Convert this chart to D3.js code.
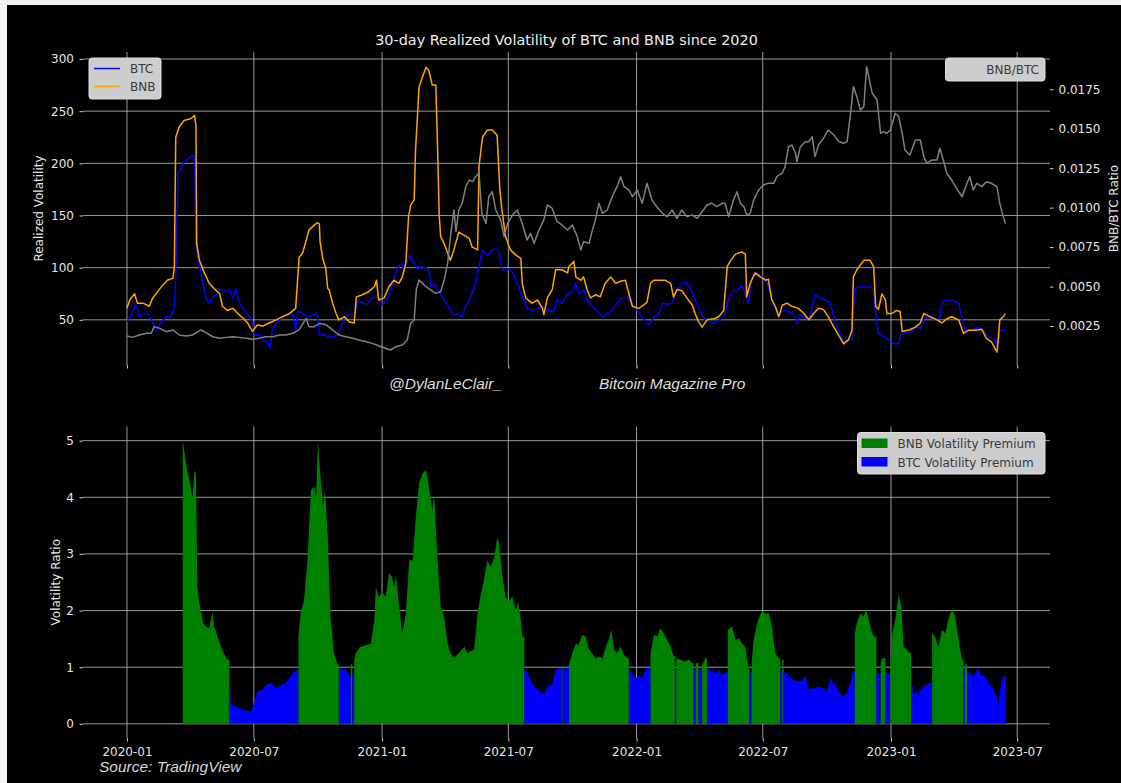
<!DOCTYPE html>
<html><head><meta charset="utf-8">
<script src="https://cdn.jsdelivr.net/npm/d3@7"></script>
<style>body{margin:0;background:#fff;} svg{display:block}</style>
</head><body>
<svg id="c" width="1121" height="783"></svg>
<script>
// ---------------- DATA (days since startDate) ----------------
const startDate = "2020-01-01";
const xTickLabels = ["2020-01","2020-07","2021-01","2021-07","2022-01","2022-07","2023-01","2023-07"];
const volTicks = [50,100,150,200,250,300];
const ratioTicks = [0.0025,0.0050,0.0075,0.0100,0.0125,0.0150,0.0175];
const premTicks = [0,1,2,3,4,5];

const bnbDays = [0,4,11,15,23,32,37,44,51,58,66,68,70,75,82,92,97,99,100,104,111,118,125,133,137,144,152,159,166,173,180,187,195,204,214,223,233,242,247,252,257,261,269,273,276,277,281,285,288,290,295,300,304,312,319,326,329,338,347,355,358,361,369,376,383,390,395,400,404,407,412,414,419,424,429,433,438,443,445,448,450,455,460,464,469,476,484,491,495,503,505,510,517,524,531,535,538,543,550,558,565,567,572,581,589,596,598,603,610,615,624,632,634,641,644,651,655,660,665,672,679,686,694,701,708,715,720,725,734,741,746,751,756,765,772,780,784,789,796,803,811,815,820,825,832,842,849,856,861,866,873,882,887,889,894,901,909,916,920,925,930,935,940,947,954,963,971,978,985,992,999,1006,1014,1021,1028,1035,1040,1042,1047,1057,1066,1071,1074,1078,1083,1088,1090,1097,1104,1109,1112,1121,1131,1138,1143,1152,1162,1169,1176,1183,1193,1200,1207,1217,1226,1233,1240,1248,1250,1252,1257,1260];
const bnbVol = [61,69,75,66,66,63,71,77,83,88,90,101,225,235,241,243,246,236,123,107,95,85,80,75,63,59,61,56,52,47,39,45,44,47,50,53,56,61,110,114,126,136,141,143,142,125,108,100,80,79,66,56,50,53,48,47,72,74,77,82,88,69,71,82,88,85,91,104,149,160,165,213,273,283,292,289,275,275,229,149,130,123,114,107,117,134,131,128,120,117,197,225,232,232,227,174,155,130,117,112,109,85,71,66,69,61,55,71,79,98,98,95,101,106,91,88,91,79,71,74,72,85,91,85,87,88,75,63,61,64,67,85,88,88,88,85,72,79,78,71,64,56,48,43,50,51,53,59,101,107,113,115,113,72,85,95,91,88,89,69,63,53,64,66,63,61,56,50,56,61,60,53,43,35,27,31,40,91,98,107,107,101,63,60,75,69,56,56,59,58,39,40,43,47,56,53,50,47,51,53,50,37,40,40,41,32,29,19,32,50,53,56];

const btcDays = [0,4,8,13,18,25,30,35,42,49,56,63,68,70,73,78,85,92,97,99,104,109,113,118,123,128,133,140,147,152,156,161,168,176,180,183,190,195,202,205,209,216,223,230,238,242,245,252,259,266,273,276,283,290,295,302,307,312,319,326,331,338,345,352,359,367,374,381,387,393,398,405,412,417,421,429,433,436,441,445,452,460,467,474,480,486,493,500,505,510,517,524,529,534,538,546,553,560,567,574,581,589,596,605,612,617,624,632,639,643,648,655,660,667,675,682,689,696,703,710,718,725,732,739,749,756,763,768,775,782,789,794,801,808,815,823,830,837,844,851,858,863,870,878,882,887,891,897,904,911,918,923,928,935,942,949,956,961,966,973,978,983,987,995,1002,1009,1014,1018,1026,1033,1040,1044,1050,1059,1066,1071,1074,1078,1085,1092,1100,1107,1112,1119,1126,1133,1138,1145,1155,1162,1166,1169,1174,1183,1193,1198,1202,1212,1221,1229,1236,1243,1248,1250,1260];
const btcVol = [48,53,58,64,53,56,56,51,40,47,53,53,63,91,189,197,203,207,207,123,101,85,72,66,71,74,79,78,79,71,80,66,59,53,47,35,36,31,28,23,42,48,53,55,56,40,58,56,53,55,56,35,36,33,34,35,43,53,55,53,69,66,65,71,72,64,71,85,98,104,98,112,104,98,101,100,98,82,85,80,72,64,56,55,53,63,72,85,101,117,112,117,118,114,98,99,96,85,72,61,59,61,63,59,58,69,66,75,77,85,75,79,69,63,58,53,56,59,66,71,72,64,59,53,45,53,56,66,65,66,79,83,87,80,69,56,50,48,47,50,56,71,77,80,83,75,66,91,95,91,87,75,63,56,59,58,56,47,55,52,50,63,74,71,69,66,53,43,31,29,32,79,82,81,82,79,56,37,34,31,27,27,40,37,40,43,42,53,51,50,53,66,69,69,66,50,40,40,43,39,34,31,27,40,40];

const ratioDays = [0,8,18,28,35,39,47,56,66,75,85,94,106,113,123,133,142,152,161,171,180,190,199,209,219,228,238,247,257,261,269,276,285,295,304,314,324,333,343,352,362,371,378,386,395,402,407,412,415,419,424,429,436,443,450,455,460,464,469,472,476,481,486,491,496,500,505,509,515,519,524,529,536,541,546,553,560,567,574,579,584,591,598,603,610,617,624,632,639,646,651,655,663,667,672,677,682,689,696,703,708,713,720,725,732,739,746,753,760,768,775,782,789,796,803,811,818,825,832,839,846,854,858,863,870,875,880,885,889,894,899,906,913,920,928,932,940,944,949,954,959,961,966,973,978,983,987,992,999,1006,1014,1021,1028,1033,1038,1042,1047,1052,1057,1061,1065,1069,1076,1081,1085,1090,1095,1102,1107,1112,1116,1123,1131,1138,1143,1147,1155,1162,1166,1171,1176,1183,1190,1198,1205,1209,1214,1219,1226,1233,1240,1248,1252,1257,1260];
const ratioVals = [0.00187,0.00178,0.00193,0.00204,0.00204,0.00246,0.00235,0.00214,0.00225,0.00193,0.00187,0.00193,0.00225,0.0021,0.00182,0.00172,0.00178,0.00182,0.00178,0.00172,0.00166,0.00172,0.00182,0.00182,0.00193,0.00193,0.00204,0.00225,0.00299,0.00246,0.00246,0.00267,0.0026,0.00225,0.00193,0.00182,0.00172,0.00161,0.0015,0.0014,0.00123,0.00109,0.00098,0.00119,0.0013,0.00161,0.00267,0.00288,0.00478,0.00542,0.0052,0.00499,0.00478,0.00457,0.00467,0.00542,0.00647,0.00816,0.00985,0.0085,0.00985,0.01028,0.01133,0.01175,0.01165,0.01196,0.01218,0.00964,0.009,0.01069,0.01101,0.00985,0.00922,0.00816,0.009,0.00953,0.00985,0.009,0.00795,0.00837,0.00774,0.00858,0.00922,0.01017,0.00995,0.00911,0.0089,0.00858,0.0089,0.00816,0.00732,0.00784,0.00774,0.00848,0.00922,0.01028,0.00964,0.00985,0.01069,0.01133,0.01196,0.01133,0.01112,0.01069,0.01112,0.01028,0.01154,0.01048,0.01006,0.00964,0.00943,0.00985,0.00932,0.00985,0.00943,0.00953,0.00932,0.00974,0.01017,0.01028,0.01006,0.01028,0.01028,0.00943,0.01048,0.01101,0.01028,0.01006,0.00953,0.00964,0.01048,0.01112,0.01144,0.01154,0.01154,0.01196,0.01218,0.01259,0.01386,0.01397,0.01344,0.01291,0.01386,0.01418,0.01418,0.0145,0.01323,0.01397,0.01439,0.01492,0.0146,0.01418,0.01408,0.01418,0.01598,0.01767,0.01703,0.01619,0.0164,0.01893,0.01809,0.01725,0.01682,0.01471,0.01482,0.01471,0.01492,0.01598,0.01577,0.01471,0.01365,0.01334,0.01429,0.01429,0.01323,0.01281,0.01302,0.01302,0.01376,0.01302,0.01218,0.01175,0.01122,0.01069,0.01154,0.01196,0.01112,0.01154,0.01133,0.01164,0.01154,0.01133,0.01028,0.00943,0.009];

const premDays = [80,82,86,90,92,94,97,99,101,104,109,113,118,123,125,130,135,140,144,147,149,156,164,171,178,183,187,195,199,207,214,221,228,235,242,246,249,254,259,264,269,271,274,277,281,284,288,292,297,302,304,309,314,319,321,323,326,328,335,343,350,355,357,361,367,371,376,380,383,386,390,395,400,405,410,414,419,424,429,433,438,441,445,450,455,460,464,469,476,484,488,493,498,503,507,512,517,522,527,531,534,538,543,548,553,558,561,565,567,570,574,579,584,591,598,603,610,615,620,624,625,629,634,639,644,648,653,658,663,667,672,677,682,687,691,695,699,703,708,713,718,720,725,730,734,739,744,749,751,756,761,765,770,775,780,784,786,788,794,801,806,811,813,816,820,825,830,832,837,844,849,854,859,862,868,873,878,882,887,891,893,896,899,904,909,911,916,921,925,930,935,937,940,942,947,954,961,968,973,978,985,992,999,1004,1009,1014,1018,1023,1028,1033,1038,1041,1044,1047,1052,1057,1060,1064,1069,1072,1075,1078,1081,1083,1085,1088,1092,1095,1098,1102,1107,1111,1114,1119,1123,1125,1128,1133,1138,1143,1147,1152,1155,1159,1164,1169,1174,1178,1184,1188,1193,1198,1200,1202,1205,1210,1214,1221,1226,1231,1236,1243,1248,1250,1254,1257,1261];
const premVals = [5.0,4.84,4.48,4.3,4.13,4.0,4.48,4.42,2.42,2.13,1.78,1.72,1.69,1.98,1.72,1.54,1.36,1.22,1.13,0.98,0.34,0.31,0.26,0.23,0.22,0.39,0.57,0.6,0.69,0.72,0.63,0.69,0.72,0.84,0.95,1.54,1.95,2.19,2.89,4.13,4.19,3.89,4.98,4.48,3.84,4.13,3.31,1.89,1.25,1.05,0.92,0.98,0.95,0.84,1.05,0.9,1.13,1.25,1.36,1.39,1.42,1.84,2.42,2.25,2.31,2.25,2.66,2.6,2.42,2.6,2.13,1.6,1.95,2.89,2.89,3.6,4.25,4.42,4.48,4.19,3.78,4.04,3.01,2.07,1.89,1.42,1.25,1.16,1.25,1.36,1.25,1.28,1.31,1.95,2.25,2.54,2.89,2.78,2.95,3.28,3.19,2.66,2.25,2.16,2.25,1.98,2.16,1.84,1.54,0.98,0.92,0.78,0.66,0.6,0.51,0.66,0.69,0.95,0.98,1.02,0.97,0.98,1.05,1.25,1.42,1.39,1.57,1.54,1.31,1.25,1.16,1.19,1.16,1.36,1.48,1.66,1.31,1.25,1.36,1.22,1.16,0.98,0.89,0.81,0.84,0.81,0.98,0.98,1.25,1.57,1.54,1.69,1.6,1.48,1.36,1.2,0.95,1.16,1.13,1.1,1.13,1.07,0.95,1.07,0.95,1.04,1.16,0.97,0.95,0.89,0.95,0.86,0.92,1.66,1.72,1.48,1.51,1.42,1.36,1.01,0.9,1.07,1.48,1.78,1.95,1.98,1.95,1.95,1.72,1.25,1.16,0.95,1.13,0.92,0.89,0.78,0.75,0.75,0.86,0.6,0.63,0.66,0.63,0.57,0.81,0.72,0.66,0.54,0.48,0.57,0.72,0.92,1.6,1.78,1.95,1.89,2.04,1.84,1.6,1.54,0.89,0.89,1.07,1.16,1.16,0.89,0.89,1.04,1.6,1.84,2.28,2.07,1.36,1.31,1.25,0.84,0.55,0.54,0.6,0.66,0.69,0.72,1.6,1.54,1.36,1.66,1.6,1.84,2.04,1.89,1.48,1.13,0.98,1.05,0.92,0.89,0.84,0.98,0.84,0.86,0.72,0.6,0.48,0.34,0.72,0.84,0.84];

// ---------------- DRAW ----------------
const svg = d3.select("#c");
const W = 1121, H = 783;
const L = 83, R = 1050;
const T1 = 52, B1 = 365;
const T2 = 426.5, B2 = 738;
const FONT = "DejaVu Sans, sans-serif";
const GRID = "#b4b4b4";
const TXT = "#e6e6e6";

const t0 = d3.utcParse("%Y-%m-%d")(startDate);
const toDate = d => new Date(t0.getTime() + d * 864e5);

svg.append("rect").attr("width", W).attr("height", H).attr("fill", "#f4f4f4");
svg.append("rect").attr("x", 7).attr("y", 5).attr("width", W - 7).attr("height", H - 5).attr("fill", "#000");

const allDays = bnbDays.concat(btcDays, ratioDays, premDays);
const [dmin, dmax] = d3.extent(allDays);
const pad = (dmax - dmin) * 0.05;
const x = d3.scaleUtc().domain([toDate(dmin - pad), toDate(dmax + pad)]).range([L, R]);
const yVol = d3.scaleLinear().domain([6.7, 306.7]).range([B1, T1]);
const yRat = d3.scaleLinear().domain([0.00003, 0.01986]).range([B1, T1]);
const yPrem = d3.scaleLinear().domain([-0.25, 5.25]).range([B2, T2]);
const xTicks = xTickLabels.map(s => d3.utcParse("%Y-%m")(s));

// grids
function grid(yScale, ticks, top, bottom) {
  const g = svg.append("g");
  g.selectAll(".gv").data(xTicks).join("line")
    .attr("x1", d => x(d)).attr("x2", d => x(d)).attr("y1", top).attr("y2", bottom)
    .attr("stroke", GRID).attr("stroke-width", 1).attr("opacity", 0.85);
  g.selectAll(".gh").data(ticks).join("line")
    .attr("x1", L).attr("x2", R).attr("y1", d => yScale(d)).attr("y2", d => yScale(d))
    .attr("stroke", GRID).attr("stroke-width", 1).attr("opacity", 0.85);
}
grid(yVol, volTicks, T1, B1);
grid(yPrem, premTicks, T2, B2);

// lines
const line = (ys) => d3.line().x(p => x(toDate(p.d))).y(p => ys(p.v));
const btc = btcDays.map((d, i) => ({d, v: btcVol[i]}));
const bnb = bnbDays.map((d, i) => ({d, v: bnbVol[i]}));
const rat = ratioDays.map((d, i) => ({d, v: ratioVals[i]}));
svg.append("path").datum(btc).attr("d", line(yVol)).attr("fill", "none").attr("stroke", "#0000ff").attr("stroke-width", 1.5).attr("stroke-linejoin", "round");
svg.append("path").datum(bnb).attr("d", line(yVol)).attr("fill", "none").attr("stroke", "#ffa500").attr("stroke-width", 1.5).attr("stroke-linejoin", "round");
svg.append("path").datum(rat).attr("d", line(yRat)).attr("fill", "none").attr("stroke", "#808080").attr("stroke-width", 1.5).attr("stroke-linejoin", "round");

// premium areas
const prem = premDays.map((d, i) => ({d, v: premVals[i]}));
const runs = [];
let cur = null;
prem.forEach(p => {
  const g = p.v > 1;
  if (!cur || cur.g !== g) { cur = {g, pts: []}; runs.push(cur); }
  cur.pts.push(p);
});
const area = d3.area().x(p => x(toDate(p.d))).y0(yPrem(0)).y1(p => yPrem(p.v));
runs.forEach((r, k) => {
  const pts = r.pts.slice();
  const nxt = runs[k + 1];
  if (nxt) pts.push({d: nxt.pts[0].d, v: pts[pts.length - 1].v});
  svg.append("path").datum(pts).attr("d", area).attr("fill", r.g ? "#008000" : "#0000ff");
});

// axes
function styleAxis(g) {
  g.select(".domain").remove();
  g.selectAll(".tick line").attr("stroke", "#d0d0d0").attr("stroke-width", 1);
  g.selectAll(".tick text").attr("fill", TXT).attr("font-family", FONT).attr("font-size", 12);
}
svg.append("g").attr("transform", `translate(${L},0)`)
  .call(d3.axisLeft(yVol).tickValues(volTicks).tickSize(3.5).tickPadding(5.5).tickFormat(d3.format("d"))).call(styleAxis);
svg.append("g").attr("transform", `translate(${R},0)`)
  .call(d3.axisRight(yRat).tickValues(ratioTicks).tickSize(3.5).tickPadding(5).tickFormat(d3.format(".4f"))).call(styleAxis);
svg.append("g").attr("transform", `translate(0,${B1})`)
  .call(d3.axisBottom(x).tickValues(xTicks).tickSize(3.5).tickFormat("")).call(styleAxis);
svg.append("g").attr("transform", `translate(${L},0)`)
  .call(d3.axisLeft(yPrem).tickValues(premTicks).tickSize(3.5).tickPadding(5.5).tickFormat(d3.format("d"))).call(styleAxis);
svg.append("g").attr("transform", `translate(0,${B2})`)
  .call(d3.axisBottom(x).tickValues(xTicks).tickSize(3.5).tickPadding(6).tickFormat(d3.utcFormat("%Y-%m"))).call(styleAxis);

// axis titles
function vtext(tx, ty, s) {
  svg.append("text").attr("transform", `translate(${tx},${ty}) rotate(-90)`)
    .attr("text-anchor", "middle").attr("fill", TXT).attr("font-family", FONT).attr("font-size", 12).text(s);
}
vtext(43, (T1 + B1) / 2, "Realized Volatility");
vtext(60, (T2 + B2) / 2, "Volatility Ratio");
vtext(1117.5, (T1 + B1) / 2, "BNB/BTC Ratio");

svg.append("text").attr("x", (L + R) / 2).attr("y", 44.5).attr("text-anchor", "middle")
  .attr("fill", "#eeeeee").attr("font-family", FONT).attr("font-size", 14.4)
  .text("30-day Realized Volatility of BTC and BNB since 2020");

// legends
const LEGTXT = "#3a3a3a";
function legBox(x0, y0, w, h) {
  svg.append("rect").attr("x", x0).attr("y", y0).attr("width", w).attr("height", h).attr("rx", 3)
    .attr("fill", "#cdcdcd").attr("stroke", "#dedede").attr("stroke-width", 1);
}
function legText(tx, ty, s, anchor) {
  svg.append("text").attr("x", tx).attr("y", ty).attr("fill", LEGTXT).attr("text-anchor", anchor || "start")
    .attr("font-family", FONT).attr("font-size", 12).text(s);
}
legBox(89, 58, 72, 41);
svg.append("line").attr("x1", 94).attr("x2", 120).attr("y1", 68.5).attr("y2", 68.5).attr("stroke", "#0000ff").attr("stroke-width", 1.5);
svg.append("line").attr("x1", 94).attr("x2", 120).attr("y1", 86.5).attr("y2", 86.5).attr("stroke", "#ffa500").attr("stroke-width", 1.5);
legText(130, 73, "BTC");
legText(130, 91, "BNB");

legBox(945.5, 58, 99.5, 23);
legText(1039, 73.5, "BNB/BTC", "end");

legBox(857.5, 432.5, 187.5, 41.5);
svg.append("rect").attr("x", 861.5).attr("y", 438.5).attr("width", 26).attr("height", 9.5).attr("fill", "#008000");
svg.append("rect").attr("x", 861.5).attr("y", 457).attr("width", 26).attr("height", 9.5).attr("fill", "#0000ff");
legText(897.5, 448, "BNB Volatility Premium");
legText(897.5, 466.5, "BTC Volatility Premium");

// watermarks / source
const IT = "Liberation Sans, Arial, sans-serif";
svg.append("text").attr("x", 389).attr("y", 389).attr("fill", "#dddddd").attr("font-family", IT).attr("font-style", "italic").attr("font-size", 15.5).text("@DylanLeClair_");
svg.append("text").attr("x", 599).attr("y", 389).attr("fill", "#dddddd").attr("font-family", IT).attr("font-style", "italic").attr("font-size", 15.5).text("Bitcoin Magazine Pro");
svg.append("text").attr("x", 99).attr("y", 772).attr("fill", "#d6d6d6").attr("font-family", IT).attr("font-style", "italic").attr("font-size", 15.5).text("Source: TradingView");
</script>
</body></html>
